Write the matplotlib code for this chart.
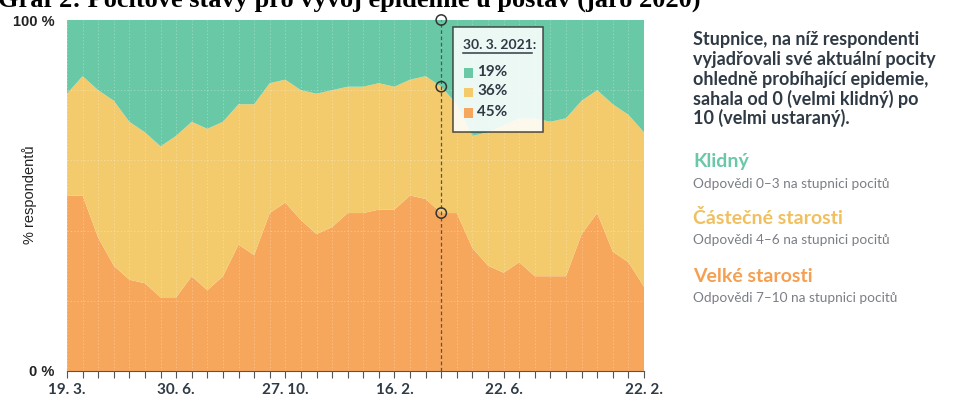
import numpy as np
import matplotlib.pyplot as plt
from matplotlib.patches import Rectangle
from matplotlib.lines import Line2D

W, H = 968, 399

# podíl respondentů (%) v jednotlivých vlnách šetření
velke = [50, 50, 38, 30, 26, 25, 21, 21, 27, 23, 27, 36, 33, 45, 48, 43, 39, 41, 45, 45,
         46, 46, 50, 49, 45, 45, 35, 30, 28, 31, 27, 27, 27, 39, 45, 34, 31, 24]
castecne = [29, 34, 42, 47, 45, 43, 43, 46, 44, 46, 44, 40, 43, 37, 35, 37, 40, 39, 36, 36,
            36, 35, 33, 35, 36, 31, 32, 38, 42, 41, 45, 44, 45, 38, 35, 42, 42, 44]
klidny = [21, 16, 20, 23, 29, 32, 36, 33, 29, 31, 29, 24, 24, 18, 17, 20, 21, 20, 19, 19,
          18, 19, 17, 16, 19, 24, 33, 32, 30, 28, 28, 29, 28, 23, 20, 24, 27, 32]

popisky_x = {0: "19. 3.", 7: "30. 6.", 14: "27. 10.", 21: "16. 2.", 28: "22. 6.", 37: "22. 2."}
vybrany = 24
vybrany_datum = "30. 3. 2021:"

ZELENA = "#69c9a7"
ZLUTA = "#f3cb6d"
ORANZOVA = "#f7a75c"
TEXT = "#2f3a45"
SEDA = "#7a7f85"
FONT = "Lato"


def fx(px):
    return px / W


def fy(py):
    return 1 - py / H


fig = plt.figure(figsize=(W / 100, H / 100), dpi=100)
ax = fig.add_axes([fx(67), fy(371), fx(644) - fx(67), fy(20) - fy(371)])

x = np.arange(len(velke))
ax.stackplot(x, velke, castecne, klidny, colors=[ORANZOVA, ZLUTA, ZELENA], lw=0)

# jemna mrizka
for xi in x:
    ax.axvline(xi, color="white", alpha=0.35, lw=0.6, ls=(0, (1.5, 2.5)))
for yi in [20, 40, 60, 80]:
    ax.axhline(yi, color="white", alpha=0.35, lw=0.6, ls=(0, (1.5, 2.5)))

ax.set_xlim(0, len(velke) - 1)
ax.set_ylim(0, 100)

# svisla cara vybraneho data
ax.axvline(vybrany, color="#555555", lw=0.9, ls=(0, (3, 2)), zorder=4)
kum = [100, velke[vybrany] + castecne[vybrany], velke[vybrany]]
ax.scatter([vybrany] * 3, kum, s=55, facecolors="none", edgecolors="#333333",
           linewidths=1.1, zorder=6, clip_on=False)

for s in ["top", "right", "left"]:
    ax.spines[s].set_visible(False)
ax.spines["bottom"].set_color("#555555")
ax.spines["bottom"].set_linewidth(0.8)

ax.set_xticks(x)
ax.set_xticklabels([popisky_x.get(i, "") for i in x], fontfamily=FONT,
                   fontweight="bold", fontsize=11, color=TEXT)
ax.tick_params(axis="x", length=5, width=0.8, color="#555555", pad=4)
ax.set_yticks([0, 100])
ax.set_yticklabels(["0 %", "100 %"], fontfamily="Liberation Sans", fontweight="bold",
                   fontsize=10.5, color="#222222")
ax.tick_params(axis="y", length=0, pad=9)

fig.text(fx(30), fy(195), "% respondentů", rotation=90, ha="center", va="center",
         fontfamily="Liberation Sans", fontsize=10.5, color="#222222")

# titulek oriznuty hornim okrajem
fig.text(fx(-2), fy(7), "Graf 2: Pocitové stavy pro vývoj epidemie u postav (jaro 2020)",
         fontfamily="Liberation Serif", fontweight="bold", fontsize=19, color="black",
         ha="left", va="baseline")

# tooltip
fig.patches.append(Rectangle((fx(453), fy(132)), fx(543) - fx(453), fy(27) - fy(132),
                             transform=fig.transFigure, facecolor="white", alpha=0.88,
                             edgecolor="#333333", lw=1.1, zorder=10))
fig.text(fx(463), fy(45), vybrany_datum, fontfamily=FONT, fontweight="bold",
         fontsize=10, color=TEXT, va="center", ha="left", zorder=11)
fig.lines.append(Line2D([fx(463), fx(532)], [fy(52.5), fy(52.5)], transform=fig.transFigure,
                        color=TEXT, lw=1.1, zorder=11))
tip = [(100 - velke[vybrany] - castecne[vybrany], ZELENA, 73),
       (castecne[vybrany], ZLUTA, 92), (velke[vybrany], ORANZOVA, 113)]
for val, col, py in tip:
    fig.patches.append(Rectangle((fx(464), fy(py + 4.5)), fx(9), 9 / H, transform=fig.transFigure,
                                 facecolor=col, edgecolor="none", zorder=11))
    fig.text(fx(477), fy(py - 1), f"{val}%", fontfamily=FONT, fontweight="bold",
             fontsize=11, color=TEXT, va="center", ha="left", zorder=11)

# pravy panel s vysvetlivkami
popis = ["Stupnice, na níž respondenti", "vyjadřovali své aktuální pocity",
         "ohledně probíhající epidemie,", "sahala od 0 (velmi klidný) po", "10 (velmi ustaraný)."]
for i, radek in enumerate(popis):
    fig.text(fx(693), fy(40 + 19.6 * i), radek, fontfamily=FONT, fontweight="bold",
             fontsize=13, color=TEXT, va="center", ha="left")

legenda = [("Klidný", "Odpovědi 0–3 na stupnici pocitů", ZELENA, 162),
           ("Částečné starosti", "Odpovědi 4–6 na stupnici pocitů", "#f0c060", 218),
           ("Velké starosti", "Odpovědi 7–10 na stupnici pocitů", "#f59f50", 276)]
for nazev, pod, col, py in legenda:
    fig.text(fx(693), fy(py), nazev, fontfamily=FONT, fontweight="bold",
             fontsize=14, color=col, va="center", ha="left")
    fig.text(fx(693), fy(py + 22), pod, fontfamily=FONT, fontsize=9.8,
             color=SEDA, va="center", ha="left")

fig.savefig("out.png", dpi=100)
